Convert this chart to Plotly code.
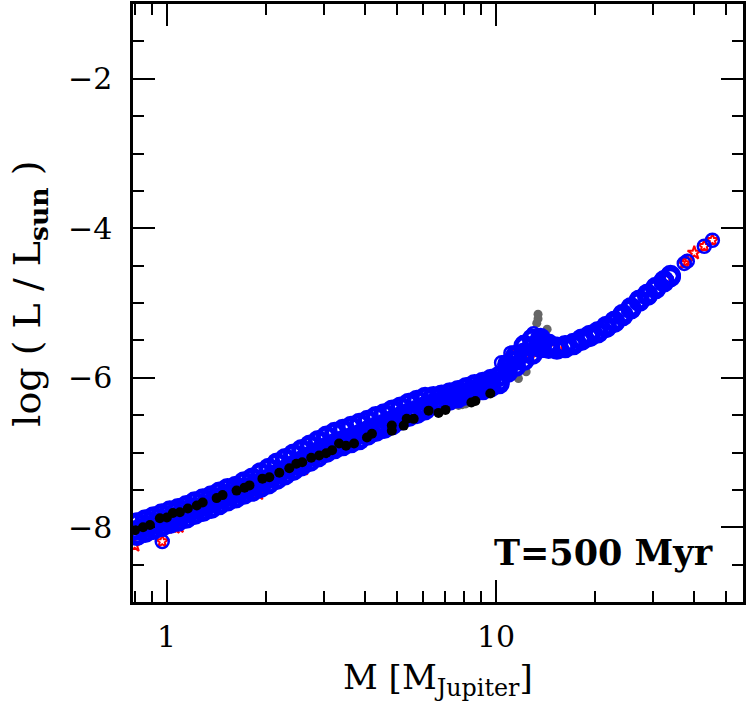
import plotly.graph_objects as go

# mass grid of the main sequence of models (Jupiter masses)
band_mass = [0.813, 0.861, 0.912, 0.966, 1.023, 1.084, 1.148, 1.216, 1.288, 1.365,
             1.445, 1.531, 1.622, 1.718, 1.820, 1.928, 2.042, 2.163, 2.291, 2.427,
             2.570, 2.723, 2.884, 3.055, 3.236, 3.428, 3.631, 3.846, 4.074, 4.315,
             4.571, 4.842, 5.129, 5.433, 5.754, 6.095, 6.457, 6.839, 7.244, 7.674,
             8.128, 8.610, 9.120, 9.661, 10.23, 10.84, 11.48, 12.16, 12.88, 13.65,
             14.45, 15.31, 16.22, 17.18, 18.20, 19.28, 20.42, 21.63, 22.91, 24.27,
             25.70, 27.23, 28.84, 30.55, 32.36, 33.88]
# log L / Lsun, upper / middle / lower row of the band
band_logl_up = [-7.94, -7.90, -7.86, -7.82, -7.78, -7.75, -7.71, -7.66, -7.62, -7.58,
                -7.53, -7.48, -7.45, -7.39, -7.34, -7.27, -7.21, -7.14, -7.08, -7.02,
                -6.96, -6.90, -6.84, -6.78, -6.73, -6.69, -6.65, -6.61, -6.57, -6.52,
                -6.48, -6.43, -6.39, -6.34, -6.30, -6.26, -6.25, -6.23, -6.20, -6.17,
                -6.13, -6.09, -6.06, -6.02, -5.98, -5.82, -5.70, -5.57, -5.48, -5.47,
                -5.55, -5.59, -5.57, -5.54, -5.48, -5.43, -5.38, -5.31, -5.24, -5.15,
                -5.06, -4.96, -4.88, -4.79, -4.70, -4.63]
band_logl_mid = [-8.04, -8.00, -7.96, -7.92, -7.88, -7.85, -7.81, -7.76, -7.72, -7.68,
                 -7.63, -7.58, -7.54, -7.49, -7.45, -7.40, -7.35, -7.29, -7.23, -7.17,
                 -7.11, -7.05, -6.99, -6.93, -6.88, -6.84, -6.80, -6.76, -6.71, -6.66,
                 -6.62, -6.57, -6.52, -6.47, -6.43, -6.38, -6.34, -6.31, -6.28, -6.25,
                 -6.21, -6.17, -6.14, -6.10, -6.06, -5.87, -5.77, -5.67, -5.58, -5.53,
                 -5.58, -5.60, -5.58, -5.55, -5.49, -5.44, -5.39, -5.32, -5.25, -5.16,
                 -5.07, -4.97, -4.89, -4.80, -4.71, -4.64]
band_logl_lo = [-8.11, -8.07, -8.03, -7.99, -7.95, -7.92, -7.88, -7.83, -7.79, -7.75,
                -7.70, -7.65, -7.61, -7.56, -7.52, -7.47, -7.42, -7.36, -7.30, -7.24,
                -7.18, -7.12, -7.06, -7.00, -6.95, -6.91, -6.87, -6.83, -6.77, -6.72,
                -6.68, -6.63, -6.57, -6.52, -6.48, -6.43, -6.36, -6.33, -6.30, -6.27,
                -6.23, -6.19, -6.16, -6.12, -6.08, -5.93, -5.85, -5.77, -5.69, -5.60,
                -5.61, -5.62, -5.60, -5.56, -5.50, -5.45, -5.40, -5.33, -5.26, -5.17,
                -5.08, -4.98, -4.90, -4.81, -4.72, -4.65]

# isolated open circles
ring_mass = [0.97, 10.4, 11.1, 12.1, 13.0, 37.3, 38.1, 42.9, 45.4]
ring_logl = [-8.19, -5.80, -5.67, -5.53, -5.41, -4.47, -4.44, -4.24, -4.16]

# red stars
star_mass = [0.80, 0.97, 1.06, 1.09, 1.9, 2.6, 3.5, 4.5, 6.2, 8.0, 10.9, 11.2,
             12.2, 12.7, 13.6, 14.3, 15.5, 33.0, 37.3, 38.1, 40.0, 42.9, 45.4]
star_logl = [-8.24, -8.19, -8.00, -7.99, -7.55, -7.22, -6.92, -6.60, -6.40, -6.25, -5.84, -5.70,
             -5.62, -5.72, -5.50, -5.58, -5.58, -4.68, -4.47, -4.44, -4.33, -4.24, -4.16]

# black dots
dot_mass = [0.802, 0.848, 0.890, 0.954, 1.002, 1.045, 1.097, 1.160, 1.235, 1.287,
            1.419, 1.479, 1.631, 1.724, 1.785, 1.954, 2.051, 2.199, 2.358, 2.476,
            2.581, 2.748, 2.905, 3.050, 3.180, 3.339, 3.506, 3.707, 4.058, 4.202,
            4.828, 4.828, 5.248, 5.358, 5.626, 6.245, 6.693, 7.027, 8.421, 8.659, 9.612]
dot_logl = [-8.04, -8.00, -7.97, -7.88, -7.87, -7.81, -7.80, -7.75, -7.71, -7.67,
            -7.61, -7.57, -7.51, -7.47, -7.44, -7.35, -7.33, -7.27, -7.21, -7.15,
            -7.13, -7.07, -7.04, -7.01, -6.97, -6.88, -6.91, -6.88, -6.80, -6.75,
            -6.64, -6.71, -6.64, -6.55, -6.55, -6.44, -6.47, -6.43, -6.33, -6.31, -6.21]

# grey dots
grey_mass = [7.7, 7.9, 8.1, 9.7, 11.7, 12.35, 13.3, 13.42, 13.42, 14.3]
grey_logl = [-6.37, -6.36, -6.35, -6.20, -6.01, -5.92, -5.27, -5.21, -5.15, -5.35]

x_minor = [0.8, 0.9, 2, 3, 4, 5, 6, 7, 8, 9, 20, 30, 40, 50]

font = "DejaVu Serif"

fig = go.Figure()

fig.add_trace(go.Scatter(x=grey_mass, y=grey_logl, mode='markers',
                         marker=dict(symbol='circle', size=9, color='#666666')))
fig.add_trace(go.Scatter(x=star_mass, y=star_logl, mode='markers',
                         marker=dict(symbol='star-open', size=10, color='red',
                                     line=dict(width=2, color='red'))))
# band of models, drawn as thick open circles so they merge together
fig.add_trace(go.Scatter(x=band_mass * 3,
                         y=band_logl_up + band_logl_mid + band_logl_lo,
                         mode='markers',
                         marker=dict(symbol='circle-open', size=16, color='blue',
                                     line=dict(width=5, color='blue'))))
fig.add_trace(go.Scatter(x=ring_mass, y=ring_logl, mode='markers',
                         marker=dict(symbol='circle-open', size=13, color='blue',
                                     line=dict(width=2.5, color='blue'))))
fig.add_trace(go.Scatter(x=dot_mass, y=dot_logl, mode='markers',
                         marker=dict(symbol='circle', size=10, color='black')))

axis_common = dict(showgrid=False, zeroline=False, showline=True, linecolor='black',
                   linewidth=2.5, mirror='allticks', ticks='inside', tickwidth=2,
                   ticklen=22, tickcolor='black',
                   tickfont=dict(family=font, size=30, color='black'))

fig.update_layout(
    width=747, height=701,
    margin=dict(l=133, r=1, t=2, b=99),
    paper_bgcolor='white', plot_bgcolor='white',
    showlegend=False,
    xaxis=dict(type='log', range=[-0.102, 1.750], tickvals=[1, 10], ticktext=['1', '10'],
               ticklabelstandoff=6,
               minor=dict(tickvals=x_minor, ticks='inside', ticklen=11, tickwidth=2,
                          tickcolor='black', showgrid=False),
               **axis_common),
    yaxis=dict(range=[-9, -1], tick0=0, dtick=2, ticklabelstandoff=12,
               minor=dict(dtick=0.5, ticks='inside', ticklen=11, tickwidth=2,
                          tickcolor='black', showgrid=False),
               **axis_common),
    annotations=[
        dict(text="<b>T=500 Myr</b>", xref='paper', yref='paper', x=0.771, y=0.082,
             xanchor='center', yanchor='middle', showarrow=False,
             font=dict(family=font, size=35, color='black')),
        dict(text="M [M<sub>Jupiter</sub>]", xref='paper', yref='paper', x=0.5, y=-0.13,
             xanchor='center', yanchor='middle', showarrow=False,
             font=dict(family=font, size=34, color='black')),
        dict(text="log ( L / L<sub><b>sun</b></sub> )", xref='paper', yref='paper',
             x=-0.171, y=0.515, xanchor='center', yanchor='middle', textangle=-90,
             showarrow=False, font=dict(family=font, size=38, color='black')),
    ],
)

# drop the page's default body margin so the figure sits at the window corner
fig.write_html("out.html", config={'displayModeBar': False},
               post_script="document.body.style.margin = '0';")
